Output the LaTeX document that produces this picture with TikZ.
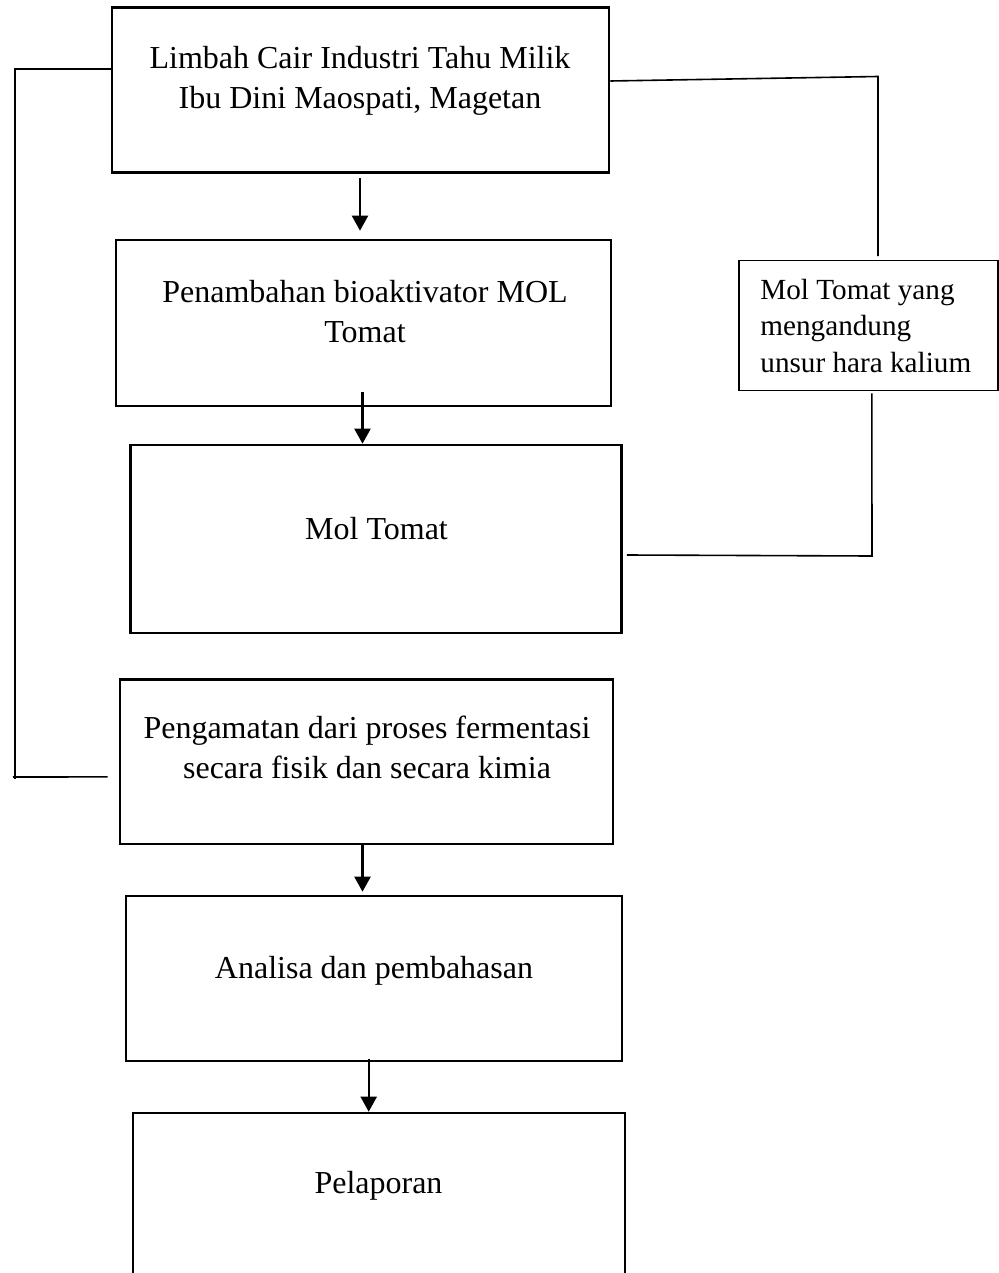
\documentclass[tikz,border=0pt]{standalone}
\usepackage{fontspec}
\setmainfont{Liberation Serif}
\usetikzlibrary{arrows.meta}

\tikzset{
  kotak/.style={draw, line width=1.3pt, inner sep=0pt},
  tulisan/.style={align=center, font=\fontsize{16}{20}\selectfont, anchor=base},
  garis/.style={line width=0.8pt},
  panah/.style={line width=1.1pt, -{Triangle[length=7.5pt,width=8pt]}},
}

\begin{document}
\begin{tikzpicture}[x=0.5pt,y=-0.5pt]
\useasboundingbox (0,0) rectangle (999,1273);
\clip (0,0) rectangle (999,1273);
% kotak alur
\node[kotak, minimum width=248.5pt, minimum height=82.5pt] (limbah) at (360.5,90) {};
\node[kotak, minimum width=247.5pt, minimum height=83pt] (tambah) at (363.5,323) {};
\node[kotak, minimum width=245.5pt, minimum height=94pt] (moltomat) at (376,539) {};
\node[kotak, minimum width=246.5pt, minimum height=82.25pt] (amat) at (366.5,761.7) {};
\node[kotak, minimum width=248pt, minimum height=82.5pt] (analisa) at (374,978.5) {};
\node[kotak, minimum width=246pt, minimum height=88pt] (lapor) at (379,1201) {};
\node[kotak, line width=0.7pt, minimum width=129.6pt, minimum height=65pt] (kalium) at (868.4,325.7) {};
% tulisan
\node[tulisan] (tlimbah) at (360,108.5) {Limbah Cair Industri Tahu Milik\\Ibu Dini Maospati, Magetan};
\node[tulisan] (ttambah) at (365,342) {Penambahan bioaktivator MOL\\Tomat};
\node[tulisan] (tmol) at (376.5,539) {Mol Tomat};
\node[tulisan] (tamat) at (367,778) {Pengamatan dari proses fermentasi\\secara fisik dan secara kimia};
\node[tulisan] (tanalisa) at (374,978) {Analisa dan pembahasan};
\node[tulisan] (tlapor) at (378.5,1193) {Pelaporan};
\node[tulisan, align=left, anchor=base west, inner sep=0pt, font=\fontsize{14.6}{18.25}\selectfont] (tkalium) at (760,372) {Mol Tomat yang\\mengandung\\unsur hara kalium};
% panah
\draw[panah] ([xshift=-0.25pt,yshift=-2pt]limbah.south) -- ([xshift=-1.75pt,yshift=4pt]tambah.north);
\draw[panah] ([xshift=-0.5pt,yshift=7.5pt]tambah.south) -- ([xshift=-6.75pt]moltomat.north);
\draw[panah] ([xshift=-2pt]amat.south) -- ([xshift=-5.75pt,yshift=1.5pt]analisa.north);
\draw[panah] ([xshift=-2.65pt,yshift=1.5pt]analisa.south) -- ([xshift=-5.15pt]lapor.north);
% garis kiri
\coordinate (kiriatas) at (15,69);
\coordinate (kiribawah) at (15,779);
\coordinate (kiriujung) at (13,777);
\draw[garis] ([yshift=10.5pt]limbah.west) -- (kiriatas) -- (kiribawah);
\draw[garis] (kiriujung) -- ([xshift=-5.5pt,yshift=-7.6pt]amat.west);
% garis kanan
\coordinate (kananatas) at (878,76.5);
\coordinate (kananbawah) at (872,556);
\draw[garis] ([yshift=4.5pt]limbah.east) -- (kananatas) -- ([xshift=4.8pt,yshift=2pt]kalium.north);
\draw[garis] ([xshift=1.7pt,yshift=-1pt]kalium.south) -- (kananbawah) -- ([xshift=2pt,yshift=-8pt]moltomat.east);
\end{tikzpicture}
\end{document}
